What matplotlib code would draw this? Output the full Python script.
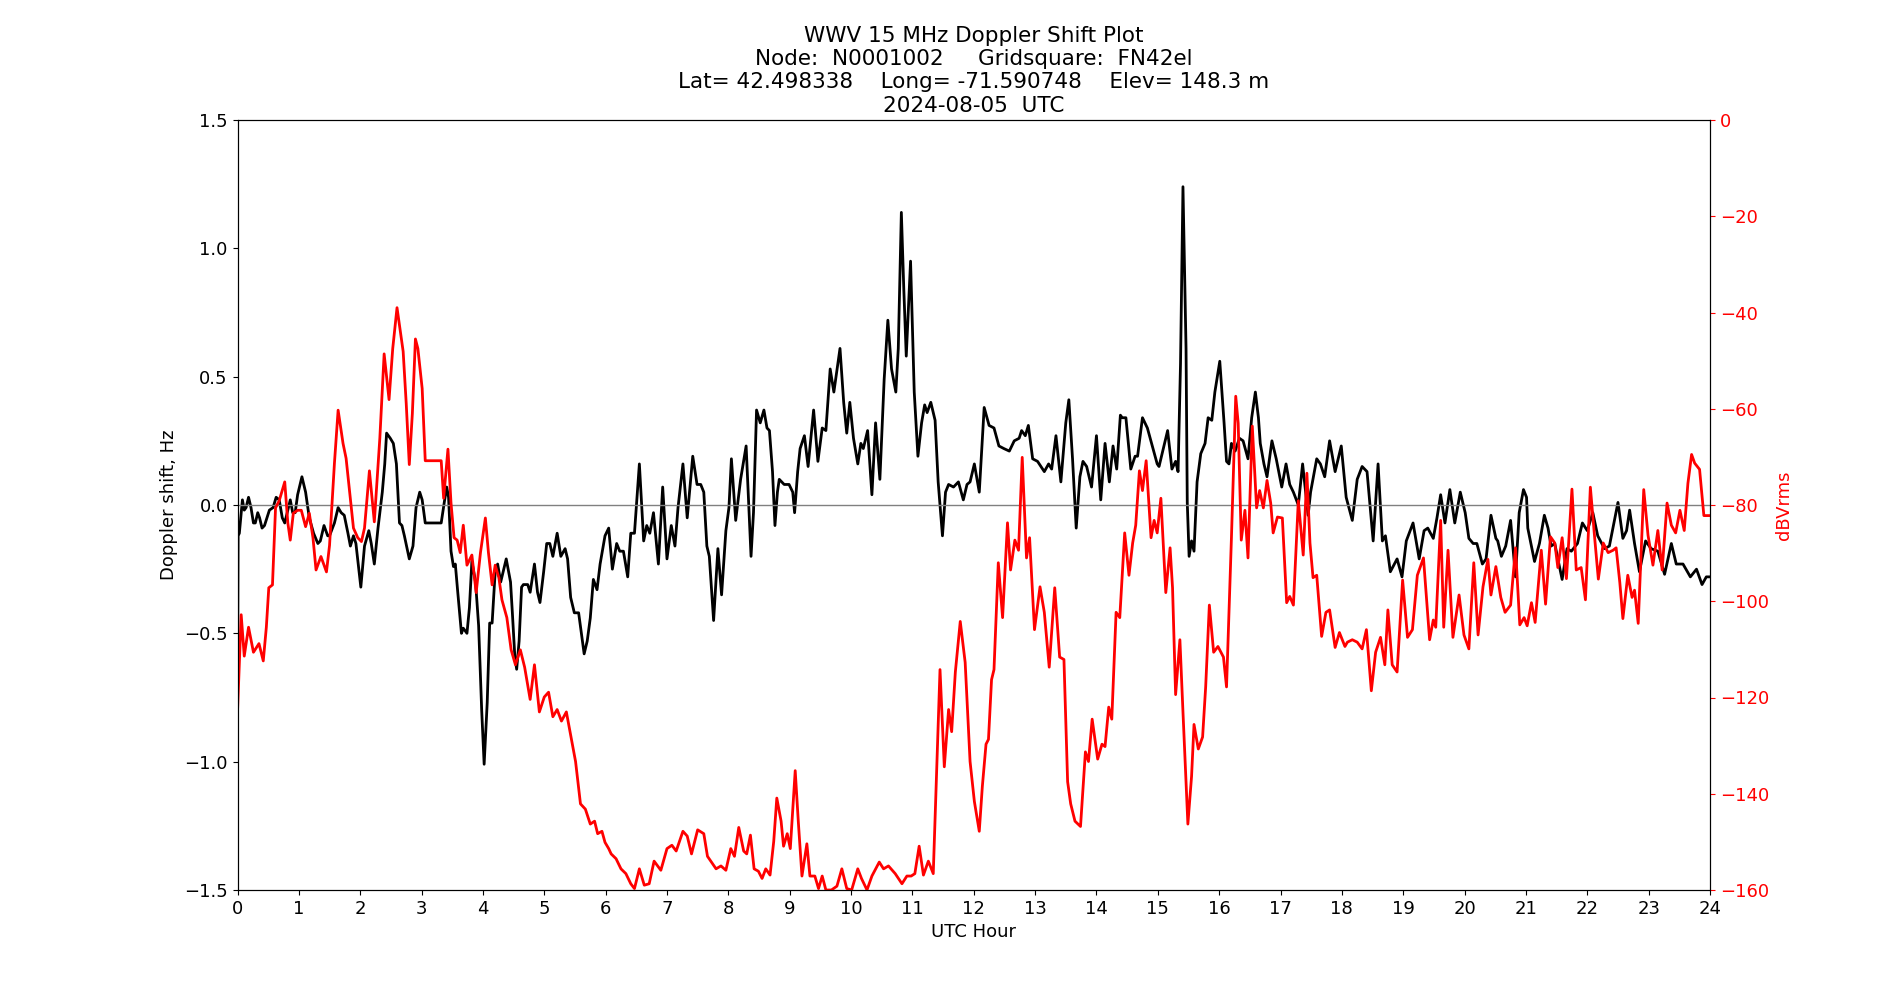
import matplotlib
matplotlib.use("Agg")
import matplotlib.pyplot as plt
import numpy as np

# doppler shift (Hz) vs UTC hour, black trace
doppler_hours = [
    0.00, 0.01, 0.03, 0.08, 0.11, 0.14, 0.18, 0.22, 0.26, 0.29, 0.33, 0.36, 0.40, 0.44, 0.52, 0.58,
    0.63, 0.68, 0.73, 0.77, 0.80, 0.86, 0.90, 0.94, 0.98, 1.05, 1.11, 1.17, 1.24, 1.31, 1.35, 1.41,
    1.47, 1.50, 1.58, 1.64, 1.69, 1.74, 1.80, 1.84, 1.89, 1.93, 2.01, 2.07, 2.14, 2.18, 2.23, 2.29,
    2.36, 2.40, 2.43, 2.49, 2.54, 2.59, 2.64, 2.68, 2.72, 2.80, 2.86, 2.91, 2.97, 3.01, 3.06, 3.14,
    3.22, 3.32, 3.37, 3.41, 3.44, 3.48, 3.52, 3.55, 3.59, 3.65, 3.68, 3.74, 3.78, 3.82, 3.88, 3.93,
    3.98, 4.02, 4.07, 4.11, 4.15, 4.20, 4.24, 4.29, 4.38, 4.45, 4.48, 4.52, 4.55, 4.59, 4.63, 4.66,
    4.73, 4.77, 4.84, 4.89, 4.93, 4.99, 5.04, 5.09, 5.14, 5.21, 5.27, 5.34, 5.38, 5.43, 5.49, 5.56,
    5.60, 5.65, 5.70, 5.75, 5.80, 5.86, 5.91, 5.99, 6.05, 6.11, 6.18, 6.23, 6.29, 6.36, 6.41, 6.47,
    6.55, 6.62, 6.67, 6.72, 6.78, 6.86, 6.93, 7.00, 7.07, 7.13, 7.18, 7.26, 7.33, 7.42, 7.49, 7.55,
    7.60, 7.65, 7.69, 7.76, 7.83, 7.89, 7.96, 8.01, 8.05, 8.12, 8.20, 8.29, 8.37, 8.41, 8.46, 8.52,
    8.58, 8.63, 8.67, 8.72, 8.76, 8.80, 8.83, 8.91, 8.99, 9.05, 9.08, 9.13, 9.17, 9.24, 9.30, 9.39,
    9.46, 9.53, 9.59, 9.66, 9.72, 9.82, 9.88, 9.93, 9.98, 10.04, 10.11, 10.16, 10.20, 10.27, 10.34,
    10.40, 10.47, 10.54, 10.60, 10.66, 10.73, 10.77, 10.82, 10.86, 10.90, 10.97, 11.03, 11.09, 11.15,
    11.20, 11.24, 11.30, 11.37, 11.42, 11.49, 11.54, 11.59, 11.67, 11.75, 11.83, 11.89, 11.94, 12.01,
    12.09, 12.17, 12.25, 12.33, 12.41, 12.49, 12.58, 12.66, 12.74, 12.78, 12.84, 12.89, 12.96, 13.04,
    13.15, 13.22, 13.27, 13.34, 13.42, 13.50, 13.55, 13.61, 13.67, 13.73, 13.78, 13.84, 13.92, 14.00,
    14.07, 14.14, 14.21, 14.27, 14.33, 14.39, 14.42, 14.48, 14.56, 14.63, 14.67, 14.75, 14.83, 14.91,
    14.99, 15.02, 15.09, 15.16, 15.23, 15.29, 15.33, 15.37, 15.41, 15.46, 15.48, 15.51, 15.55, 15.59,
    15.64, 15.70, 15.77, 15.82, 15.88, 15.93, 16.01, 16.08, 16.12, 16.16, 16.20, 16.26, 16.33, 16.39,
    16.47, 16.53, 16.59, 16.64, 16.67, 16.73, 16.78, 16.86, 16.93, 17.02, 17.09, 17.15, 17.21, 17.29,
    17.36, 17.40, 17.45, 17.49, 17.59, 17.65, 17.72, 17.80, 17.89, 17.99, 18.07, 18.17, 18.25, 18.33,
    18.41, 18.51, 18.59, 18.66, 18.71, 18.79, 18.90, 18.98, 19.05, 19.16, 19.26, 19.34, 19.40, 19.49,
    19.55, 19.61, 19.68, 19.76, 19.84, 19.93, 20.01, 20.07, 20.14, 20.20, 20.29, 20.35, 20.43, 20.51,
    20.54, 20.60, 20.67, 20.75, 20.83, 20.89, 20.96, 21.01, 21.03, 21.14, 21.22, 21.30, 21.36, 21.41,
    21.47, 21.52, 21.59, 21.67, 21.74, 21.84, 21.92, 22.00, 22.09, 22.17, 22.28, 22.36, 22.45, 22.50,
    22.58, 22.64, 22.69, 22.77, 22.85, 22.95, 23.04, 23.15, 23.26, 23.37, 23.45, 23.56, 23.68, 23.78,
    23.87, 23.94, 24.00,
]
doppler_hz = [
    -0.80, -0.12, -0.11, 0.02, -0.02, -0.01, 0.03, -0.01, -0.07, -0.07, -0.03, -0.05, -0.09, -0.08, -0.02, -0.01,
    0.03, 0.02, -0.05, -0.07, -0.04, 0.02, -0.03, -0.03, 0.04, 0.11, 0.05, -0.05, -0.11, -0.15, -0.14, -0.08,
    -0.12, -0.12, -0.07, -0.01, -0.03, -0.04, -0.11, -0.16, -0.12, -0.15, -0.32, -0.16, -0.10, -0.15, -0.23, -0.09,
    0.05, 0.16, 0.28, 0.26, 0.24, 0.16, -0.07, -0.08, -0.12, -0.21, -0.16, -0.01, 0.05, 0.02, -0.07, -0.07,
    -0.07, -0.07, 0.01, 0.07, 0.03, -0.18, -0.24, -0.23, -0.34, -0.50, -0.48, -0.50, -0.40, -0.22, -0.30, -0.47,
    -0.80, -1.01, -0.77, -0.46, -0.46, -0.26, -0.23, -0.30, -0.21, -0.30, -0.42, -0.59, -0.64, -0.53, -0.32, -0.31,
    -0.31, -0.34, -0.23, -0.34, -0.38, -0.26, -0.15, -0.15, -0.20, -0.11, -0.20, -0.17, -0.21, -0.36, -0.42, -0.42,
    -0.49, -0.58, -0.53, -0.44, -0.29, -0.33, -0.23, -0.12, -0.09, -0.25, -0.15, -0.18, -0.18, -0.28, -0.11, -0.11,
    0.16, -0.14, -0.08, -0.11, -0.03, -0.23, 0.07, -0.21, -0.08, -0.16, -0.01, 0.16, -0.05, 0.19, 0.08, 0.08,
    0.05, -0.16, -0.20, -0.45, -0.17, -0.35, -0.10, -0.01, 0.18, -0.06, 0.10, 0.23, -0.20, -0.03, 0.37, 0.32,
    0.37, 0.30, 0.29, 0.13, -0.08, 0.05, 0.10, 0.08, 0.08, 0.05, -0.03, 0.13, 0.22, 0.27, 0.15, 0.37,
    0.17, 0.30, 0.29, 0.53, 0.44, 0.61, 0.40, 0.28, 0.40, 0.26, 0.16, 0.24, 0.22, 0.29, 0.04,
    0.32, 0.10, 0.49, 0.72, 0.53, 0.44, 0.61, 1.14, 0.84, 0.58, 0.95, 0.44, 0.19, 0.32,
    0.39, 0.36, 0.40, 0.33, 0.09, -0.12, 0.05, 0.08, 0.07, 0.09, 0.02, 0.08, 0.09, 0.16,
    0.05, 0.38, 0.31, 0.30, 0.23, 0.22, 0.21, 0.25, 0.26, 0.29, 0.27, 0.31, 0.18, 0.17,
    0.13, 0.16, 0.14, 0.27, 0.09, 0.32, 0.41, 0.18, -0.09, 0.11, 0.17, 0.15, 0.07, 0.27,
    0.02, 0.24, 0.09, 0.23, 0.14, 0.35, 0.34, 0.34, 0.14, 0.19, 0.19, 0.34, 0.30, 0.23,
    0.16, 0.15, 0.22, 0.29, 0.14, 0.17, 0.13, 0.55, 1.24, 0.61, 0.01, -0.20, -0.14, -0.18,
    0.09, 0.20, 0.24, 0.34, 0.33, 0.44, 0.56, 0.32, 0.17, 0.16, 0.24, 0.21, 0.26, 0.25,
    0.18, 0.34, 0.44, 0.34, 0.24, 0.16, 0.11, 0.25, 0.18, 0.07, 0.16, 0.08, 0.05, 0.00,
    0.16, 0.07, -0.04, 0.05, 0.18, 0.16, 0.11, 0.25, 0.13, 0.23, 0.03, -0.06, 0.10, 0.15,
    0.13, -0.14, 0.16, -0.14, -0.12, -0.26, -0.21, -0.28, -0.14, -0.07, -0.21, -0.10, -0.09, -0.13,
    -0.05, 0.04, -0.07, 0.06, -0.07, 0.05, -0.03, -0.13, -0.15, -0.15, -0.23, -0.21, -0.04, -0.13,
    -0.14, -0.20, -0.16, -0.06, -0.28, -0.03, 0.06, 0.03, -0.09, -0.22, -0.15, -0.04, -0.09, -0.16,
    -0.15, -0.21, -0.29, -0.17, -0.18, -0.15, -0.07, -0.10, -0.03, -0.12, -0.17, -0.16, -0.05, 0.01,
    -0.13, -0.10, -0.02, -0.15, -0.26, -0.14, -0.17, -0.18, -0.27, -0.15, -0.23, -0.23, -0.28, -0.25,
    -0.31, -0.28, -0.28,
]

# received signal level (dBVrms), red trace
power_hours = [
    0.00, 0.06, 0.11, 0.18, 0.26, 0.35, 0.42, 0.47, 0.51, 0.57, 0.62, 0.68, 0.77, 0.82, 0.86, 0.91,
    0.98, 1.04, 1.11, 1.17, 1.23, 1.28, 1.36, 1.45, 1.50, 1.58, 1.64, 1.72, 1.77, 1.83, 1.89, 1.96,
    2.02, 2.07, 2.15, 2.23, 2.32, 2.39, 2.47, 2.53, 2.60, 2.70, 2.75, 2.80, 2.85, 2.90, 2.94, 3.01,
    3.06, 3.14, 3.22, 3.32, 3.36, 3.43, 3.48, 3.53, 3.58, 3.63, 3.68, 3.74, 3.82, 3.89, 3.96, 4.04,
    4.09, 4.15, 4.20, 4.26, 4.31, 4.39, 4.46, 4.53, 4.61, 4.68, 4.77, 4.84, 4.92, 5.00, 5.07, 5.14,
    5.21, 5.28, 5.36, 5.42, 5.51, 5.59, 5.67, 5.75, 5.82, 5.87, 5.94, 5.99, 6.05, 6.09, 6.17, 6.25,
    6.33, 6.41, 6.47, 6.55, 6.63, 6.71, 6.79, 6.90, 7.00, 7.08, 7.15, 7.26, 7.33, 7.40, 7.50, 7.60,
    7.66, 7.74, 7.80, 7.88, 7.96, 8.04, 8.10, 8.17, 8.25, 8.30, 8.36, 8.42, 8.49, 8.55, 8.61, 8.68,
    8.74, 8.79, 8.86, 8.90, 8.96, 9.01, 9.09, 9.14, 9.20, 9.28, 9.33, 9.41, 9.47, 9.53, 9.59, 9.68,
    9.77, 9.85, 9.93, 10.01, 10.11, 10.17, 10.26, 10.34, 10.46, 10.53, 10.61, 10.72, 10.83, 10.91,
    10.98, 11.04, 11.11, 11.18, 11.26, 11.34, 11.40, 11.45, 11.52, 11.59, 11.64, 11.70, 11.78, 11.86,
    11.94, 12.01, 12.09, 12.14, 12.20, 12.24, 12.29, 12.33, 12.40, 12.47, 12.55, 12.60, 12.67, 12.73,
    12.79, 12.86, 12.91, 12.99, 13.08, 13.15, 13.23, 13.32, 13.40, 13.47, 13.53, 13.58, 13.65, 13.74,
    13.82, 13.87, 13.93, 14.02, 14.09, 14.14, 14.20, 14.25, 14.32, 14.38, 14.46, 14.53, 14.59, 14.64,
    14.70, 14.75, 14.81, 14.89, 14.94, 14.99, 15.05, 15.13, 15.20, 15.24, 15.29, 15.36, 15.41, 15.49,
    15.55, 15.59, 15.66, 15.73, 15.78, 15.84, 15.91, 15.98, 16.07, 16.12, 16.20, 16.27, 16.31, 16.36,
    16.42, 16.47, 16.54, 16.61, 16.66, 16.72, 16.78, 16.84, 16.88, 16.95, 17.03, 17.10, 17.15, 17.21,
    17.29, 17.37, 17.43, 17.48, 17.53, 17.59, 17.67, 17.74, 17.80, 17.89, 17.96, 18.05, 18.09, 18.17,
    18.25, 18.33, 18.40, 18.48, 18.55, 18.63, 18.70, 18.75, 18.82, 18.90, 18.99, 19.07, 19.15, 19.23,
    19.33, 19.43, 19.49, 19.53, 19.61, 19.66, 19.73, 19.81, 19.91, 19.99, 20.07, 20.15, 20.22, 20.30,
    20.38, 20.43, 20.51, 20.59, 20.66, 20.75, 20.83, 20.90, 20.97, 21.02, 21.09, 21.15, 21.25, 21.32,
    21.40, 21.47, 21.52, 21.59, 21.66, 21.75, 21.82, 21.90, 21.97, 22.05, 22.12, 22.18, 22.26, 22.34,
    22.42, 22.47, 22.53, 22.58, 22.66, 22.73, 22.77, 22.83, 22.92, 22.99, 23.07, 23.15, 23.22, 23.30,
    23.37, 23.44, 23.51, 23.58, 23.64, 23.70, 23.75, 23.83, 23.90, 24.00,
]
power_db = [
    -123.0, -102.8, -111.4, -105.4, -110.6, -108.8, -112.4, -105.4, -97.2, -96.6, -80.6, -79.1, -75.2, -83.7, -87.3, -81.7,
    -81.1, -81.1, -84.5, -81.7, -86.8, -93.5, -90.7, -93.9, -88.4, -71.3, -60.3, -67.2, -70.3, -77.5, -84.8, -86.8,
    -87.6, -84.8, -72.9, -83.5, -66.1, -48.6, -58.1, -47.5, -39.0, -48.1, -58.9, -71.6, -61.0, -45.5, -47.5, -55.8,
    -70.8, -70.8, -70.8, -70.8, -78.6, -68.4, -79.6, -86.8, -87.3, -89.9, -84.2, -92.5, -90.4, -98.2, -89.9, -82.7,
    -89.9, -96.6, -92.5, -95.1, -99.7, -103.4, -110.1, -113.2, -110.1, -113.7, -120.4, -113.2, -123.0, -119.9, -118.9, -124.0,
    -122.5, -124.9, -123.0, -127.1, -133.3, -142.1, -143.2, -146.3, -145.7, -148.3, -147.8, -150.1, -151.4, -152.5, -153.5, -155.6,
    -156.6, -158.7, -159.7, -155.6, -159.0, -158.7, -154.0, -155.9, -151.4, -150.7, -151.9, -147.8, -148.8, -152.5, -147.5, -148.3,
    -153.0, -154.5, -155.6, -155.0, -155.9, -151.4, -153.0, -147.0, -151.9, -152.5, -148.6, -155.6, -156.1, -157.6, -155.6, -156.9,
    -149.9, -140.9, -145.7, -150.9, -148.3, -151.4, -135.2, -145.7, -157.1, -150.4, -157.1, -157.1, -159.7, -157.1, -160.0, -160.0,
    -159.2, -155.6, -159.7, -160.0, -155.6, -157.6, -160.0, -157.1, -154.2, -155.6, -155.0, -156.6, -158.7, -157.1,
    -157.1, -156.6, -150.9, -156.9, -154.0, -156.6, -133.3, -114.2, -134.4, -122.5, -127.1, -114.7, -104.2, -112.7,
    -133.3, -141.6, -147.8, -138.5, -129.7, -128.7, -116.3, -114.2, -92.0, -103.4, -83.7, -93.5, -87.3, -89.4,
    -70.1, -91.0, -86.8, -105.9, -97.0, -102.3, -113.7, -97.2, -111.6, -112.1, -137.5, -142.1, -145.7, -146.8,
    -131.3, -133.3, -124.5, -132.8, -129.7, -130.2, -122.0, -124.5, -102.3, -103.4, -85.8, -94.6, -87.9, -84.2,
    -72.9, -77.0, -70.8, -86.8, -83.2, -85.8, -78.6, -98.2, -88.9, -97.2, -119.4, -108.0, -123.0, -146.3,
    -136.4, -125.6, -130.7, -128.2, -117.8, -100.8, -110.6, -109.4, -111.6, -117.8, -86.8, -57.4, -63.0, -87.3,
    -81.1, -91.0, -63.6, -80.6, -77.0, -80.6, -74.9, -79.6, -85.8, -82.5, -82.7, -100.3, -99.0, -100.8,
    -79.1, -90.4, -73.4, -87.9, -95.1, -94.6, -107.3, -102.3, -101.8, -109.6, -106.5, -109.4, -108.5, -108.0,
    -108.5, -109.9, -105.9, -118.6, -110.6, -107.5, -113.2, -101.8, -113.2, -114.7, -95.6, -107.5, -105.9, -94.6,
    -91.0, -108.0, -103.9, -105.4, -83.2, -105.4, -89.4, -107.5, -98.7, -107.0, -109.9, -92.0, -107.0, -97.0,
    -91.3, -98.7, -92.8, -99.2, -102.3, -100.8, -88.9, -104.9, -103.4, -105.1, -100.3, -104.4, -89.4, -100.6,
    -86.6, -87.9, -93.0, -86.8, -95.3, -76.7, -93.5, -93.0, -99.7, -76.3, -86.8, -95.4, -87.9, -89.9,
    -89.4, -88.9, -96.1, -103.6, -94.6, -99.2, -97.7, -104.6, -76.8, -86.3, -92.5, -85.3, -93.5, -79.6,
    -84.2, -85.8, -81.1, -85.3, -75.5, -69.5, -71.3, -72.6, -82.2, -82.2,
]

hour_ticks = np.arange(0, 25, 1)

title_text = ("WWV 15 MHz Doppler Shift Plot\n"
              "Node:  N0001002     Gridsquare:  FN42el\n"
              "Lat= 42.498338    Long= -71.590748    Elev= 148.3 m\n"
              "2024-08-05  UTC")

plt.rcParams["font.size"] = 13

fig = plt.figure(figsize=(19, 10), dpi=100)
ax = fig.add_subplot(111)

# doppler on the left axis
ax.plot(doppler_hours, doppler_hz, color="black", linewidth=2)
ax.axhline(0, color="gray", linewidth=1)
ax.set_xlim(0, 24)
ax.set_ylim(-1.5, 1.5)
ax.set_xticks(hour_ticks)
ax.set_xlabel("UTC Hour")
ax.set_ylabel("Doppler shift, Hz")
ax.set_title(title_text, fontsize=15.5)

# signal level on the right axis
ax2 = ax.twinx()
ax2.plot(power_hours, power_db, color="red", linewidth=2)
ax2.set_ylim(-160, 0)
ax2.set_ylabel("dBVrms", color="red")
ax2.tick_params(axis="y", colors="red")

plt.savefig("out.png", dpi=100)
